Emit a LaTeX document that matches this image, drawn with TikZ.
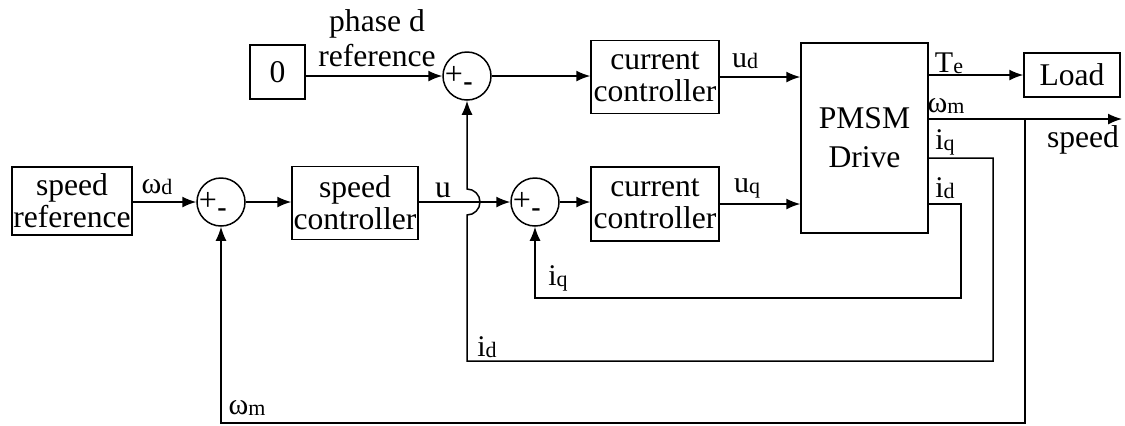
\documentclass[tikz,border=0pt]{standalone}
\usepackage{fontspec}
\setmainfont{Liberation Serif}
\usetikzlibrary{arrows.meta}
\newcommand{\sublbl}[2]{{\fontsize{15}{15}\selectfont #1}\raisebox{-0.5pt}{\fontsize{11}{11}\selectfont #2}}
\begin{document}
\begin{tikzpicture}[x=0.5pt,y=-0.5pt, line width=0.75pt,
  blk/.style={draw, inner sep=0pt, align=center, font=\fontsize{15.8}{16}\selectfont},
  sumnode/.style={draw, circle, minimum size=24pt, inner sep=0pt},
  arr/.style={-{Latex[length=7pt,width=5.5pt]}},
  lab/.style={inner sep=0pt},
  txt/.style={inner sep=0pt, font=\fontsize{15.8}{16}\selectfont},
  sgn/.style={inner sep=0pt, font=\fontsize{16}{16}\selectfont},
  sgm/.style={inner sep=0pt, font=\fontsize{14}{14}\selectfont\bfseries}]
\useasboundingbox (0,0) rectangle (1125,425);

% blocks
\node[blk, minimum width=60pt, minimum height=34pt] (sref) at (72,201) {speed\\reference};
\node[sumnode] (sum1) at (221,202) {};
\node[blk, minimum width=63pt, minimum height=36.5pt] (sctrl) at (355,203) {speed\\controller};
\node[sumnode] (sum2) at (535,202) {};
\node[blk, minimum width=64pt, minimum height=37pt] (cc2) at (655,204) {current\\controller};
\node[blk, minimum width=64pt, minimum height=36.5pt] (cc1) at (655,77) {current\\controller};
\node[blk, minimum width=27.5pt, minimum height=27pt] (zero) at (277.5,72) {0};
\node[sumnode] (sum3) at (467,76) {};
\node[blk, minimum width=63.5pt, minimum height=95pt, font=\fontsize{15.8}{19.5}\selectfont] (pmsm) at (864.5,138) {PMSM\\Drive};
\node[blk, minimum width=48pt, minimum height=22pt] (load) at (1072,75) {Load};

% signs in summing junctions
\node[sgn] (p1) at (208,201) {+};
\node[sgm] (m1) at (222,213) {-};
\node[sgn] (p2) at (522,201) {+};
\node[sgm] (m2) at (536,213) {-};
\node[sgn] (p3) at (454,75) {+};
\node[sgm] (m3) at (468,87) {-};

% coordinates
\coordinate (spdend) at (1122,119);
\coordinate (br) at (1025,119);
\coordinate (bl) at (1025,423);
\coordinate (iqr) at (993,158);
\coordinate (iqb) at (993,361);
\coordinate (jb) at (467,215);
\coordinate (idr) at (961,204);
\coordinate (idb) at (961,298);

% forward paths
\draw[arr] (sref.east |- sum1) -- (sum1.west);
\draw[arr] (sum1.east) -- (sum1.east -| sctrl.west);
\draw[arr] (sctrl.east |- sum2) -- (sum2.west);
\draw[arr] (sum2.east) -- (sum2.east -| cc2.west);
\draw[arr] (zero.east |- sum3) -- (sum3.west);
\draw[arr] (sum3.east) -- (sum3.east -| cc1.west);
\draw[arr] (cc1.east) -- (cc1.east -| pmsm.west);
\draw[arr] (cc2.east) -- (cc2.east -| pmsm.west);
\draw[arr] (pmsm.east |- load.west) -- (load.west);
\draw[arr] (pmsm.east |- spdend) -- (spdend);

% feedback paths
\draw[arr] (br) |- (sum1.south |- bl) -- (sum1.south);
\draw[arr] (pmsm.east |- iqr) -- (iqr) -- (iqb) -- (sum3.south |- iqb) -- (jb)
  arc[start angle=90, end angle=-90, radius=13] -- (sum3.south);
\draw[arr] (pmsm.east |- idr) -- (idr) -- (idb) -- (sum2.south |- idb) -- (sum2.south);

% labels
\node[txt] (tph) at (377,24) {phase d};
\node[txt] (tref) at (377,56) {reference};
\node[lab] (lwd) at (157,187) {\sublbl{ω}{d}};
\node[lab, font=\fontsize{15.8}{16}\selectfont] (lu) at (443,190) {u};
\node[lab] (lud) at (745,61) {\sublbl{u}{d}};
\node[lab] (luq) at (747,188) {\sublbl{u}{q}};
\node[lab] (lte) at (949,63) {\sublbl{T}{e}};
\node[lab] (lwm) at (946,106) {\sublbl{ω}{m}};
\node[lab] (liq) at (945,142) {\sublbl{i}{q}};
\node[lab] (lid) at (945,188) {\sublbl{i}{d}};
\node[txt] (lspd) at (1083,140) {speed};
\node[lab] (liq2) at (558,278) {\sublbl{i}{q}};
\node[lab] (lid2) at (487,347) {\sublbl{i}{d}};
\node[lab] (lwm2) at (247,408) {\sublbl{ω}{m}};
\end{tikzpicture}
\end{document}
